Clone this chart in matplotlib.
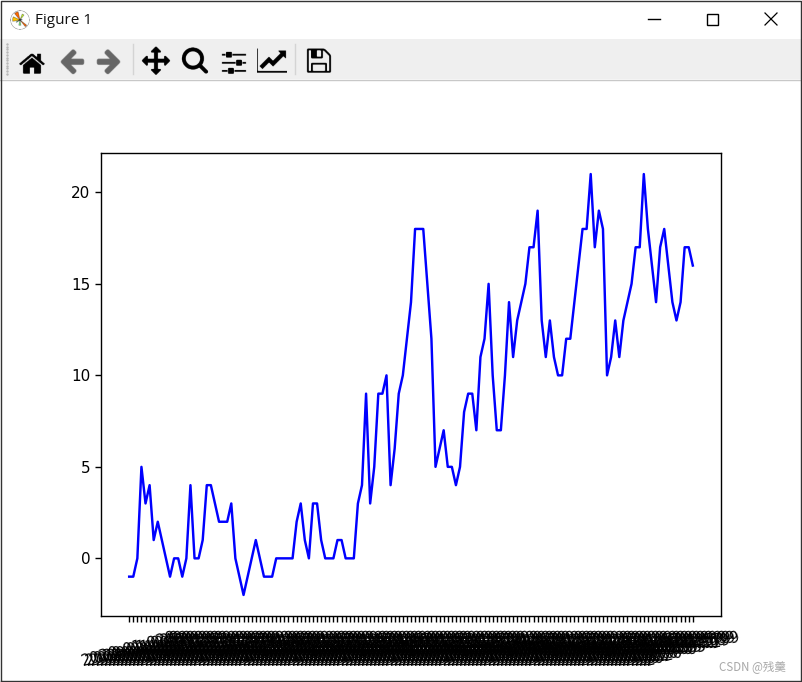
import os
import matplotlib
matplotlib.use("Agg")
import matplotlib.pyplot as plt
from matplotlib.patches import Rectangle

W, H = 802, 682

values = [-1, -1, 0, 5, 3, 4, 1, 2, 1, 0, -1, 0, 0, -1, 0, 4, 0, 0, 1, 4,
          4, 3, 2, 2, 2, 3, 0, -1, -2, -1, 0, 1, 0, -1, -1, -1, 0, 0, 0, 0,
          0, 2, 3, 1, 0, 3, 3, 1, 0, 0, 0, 1, 1, 0, 0, 0, 3, 4, 9, 3,
          5, 9, 9, 10, 4, 6, 9, 10, 12, 14, 18, 18, 18, 15, 12, 5, 6, 7, 5, 5,
          4, 5, 8, 9, 9, 7, 11, 12, 15, 10, 7, 7, 10, 14, 11, 13, 14, 15, 17, 17,
          19, 13, 11, 13, 11, 10, 10, 12, 12, 14, 16, 18, 18, 21, 17, 19, 18, 10, 11, 13,
          11, 13, 14, 15, 17, 17, 21, 18, 16, 14, 17, 18, 16, 14, 13, 14, 17, 17, 16]

# the labels are an unreadable black block in the picture, only their size matters
dates = ["2020-01-02", "2020-01-03", "2020-01-04", "2020-01-05", "2020-01-06", "2020-01-07", "2020-01-08",
         "2020-01-09", "2020-01-10", "2020-01-11", "2020-01-12", "2020-01-13", "2020-01-14", "2020-01-15",
         "2020-01-16", "2020-01-17", "2020-01-18", "2020-01-19", "2020-01-20", "2020-01-21", "2020-01-22",
         "2020-01-23", "2020-01-24", "2020-01-25", "2020-01-26", "2020-01-27", "2020-01-28", "2020-01-29",
         "2020-01-30", "2020-01-31", "2020-02-01", "2020-02-02", "2020-02-03", "2020-02-04", "2020-02-05",
         "2020-02-06", "2020-02-07", "2020-02-08", "2020-02-09", "2020-02-10", "2020-02-11", "2020-02-12",
         "2020-02-13", "2020-02-14", "2020-02-15", "2020-02-16", "2020-02-17", "2020-02-18", "2020-02-19",
         "2020-02-20", "2020-02-21", "2020-02-22", "2020-02-23", "2020-02-24", "2020-02-25", "2020-02-26",
         "2020-02-27", "2020-02-28", "2020-02-29", "2020-03-01", "2020-03-02", "2020-03-03", "2020-03-04",
         "2020-03-05", "2020-03-06", "2020-03-07", "2020-03-08", "2020-03-09", "2020-03-10", "2020-03-11",
         "2020-03-12", "2020-03-13", "2020-03-14", "2020-03-15", "2020-03-16", "2020-03-17", "2020-03-18",
         "2020-03-19", "2020-03-20", "2020-03-21", "2020-03-22", "2020-03-23", "2020-03-24", "2020-03-25",
         "2020-03-26", "2020-03-27", "2020-03-28", "2020-03-29", "2020-03-30", "2020-03-31", "2020-04-01",
         "2020-04-02", "2020-04-03", "2020-04-04", "2020-04-05", "2020-04-06", "2020-04-07", "2020-04-08",
         "2020-04-09", "2020-04-10", "2020-04-11", "2020-04-12", "2020-04-13", "2020-04-14", "2020-04-15",
         "2020-04-16", "2020-04-17", "2020-04-18", "2020-04-19", "2020-04-20", "2020-04-21", "2020-04-22",
         "2020-04-23", "2020-04-24", "2020-04-25", "2020-04-26", "2020-04-27", "2020-04-28", "2020-04-29",
         "2020-04-30", "2020-05-01", "2020-05-02", "2020-05-03", "2020-05-04", "2020-05-05", "2020-05-06",
         "2020-05-07", "2020-05-08", "2020-05-09", "2020-05-10", "2020-05-11", "2020-05-12", "2020-05-13",
         "2020-05-14", "2020-05-15", "2020-05-16", "2020-05-17", "2020-05-18", "2020-05-19"]
tick_labels = [d + "9" for d in dates]

fig = plt.figure(figsize=(W / 100, H / 100), dpi=100, facecolor="white")

# window around the figure, in screenshot pixels
chrome = fig.add_axes([0, 0, 1, 1], zorder=0)
chrome.set_xlim(0, W)
chrome.set_ylim(H, 0)
chrome.axis("off")
chrome.add_patch(Rectangle((0, 39), W, 40, color="#efefef", lw=0))
chrome.plot([0, W], [79.5, 79.5], color="#c8c8c8", lw=1)
chrome.plot([133, 133], [44, 74], color="#d4d4d4", lw=1)
chrome.plot([294.5, 294.5], [44, 74], color="#d4d4d4", lw=1)
chrome.plot([7] * 12, [44 + 2.7 * i for i in range(12)], ls="none", marker="s", ms=0.7, color="#b8b8b8")
chrome.text(35, 20, "Figure 1", fontsize=11, family="Open Sans", va="center", color="#111111")
# minimise, maximise, close
chrome.plot([648, 660], [18.5, 18.5], color="black", lw=1)
chrome.add_patch(Rectangle((706.5, 13.5), 11, 11, fill=False, ec="black", lw=1))
chrome.plot([765, 777], [13, 25], color="black", lw=0.9)
chrome.plot([765, 777], [25, 13], color="black", lw=0.9)
# window border
chrome.plot([0.5, 0.5, 800.5, 800.5, 0.5], [681, 0.5, 0.5, 681, 681], color="#333333", lw=1)


def icon(name, x, y, size, gray=False):
    path = os.path.join(matplotlib.get_data_path(), "images", name + ".png")
    img = plt.imread(path).copy()
    if gray:
        img[..., :3] = 0.4
    a = fig.add_axes([(x - size / 2) / W, 1 - (y + size / 2) / H, size / W, size / H], zorder=2)
    a.imshow(img, interpolation="antialiased")
    a.axis("off")


icon("matplotlib_large", 20, 20, 20)
icon("home_large", 32, 61, 30)
icon("back_large", 72, 61, 30, gray=True)
icon("forward_large", 109, 61, 30, gray=True)
icon("move_large", 156, 60, 30)
icon("zoom_to_rect_large", 195, 60, 30)
icon("subplots_large", 234, 61, 30)
icon("qt4_editor_options_large", 272, 60, 30)
icon("filesave_large", 319, 60, 30)

ax = fig.add_axes([101 / W, 1 - 616 / H, 620 / W, 463 / H], zorder=1)
ax.plot(tick_labels, values, color="blue", lw=1.75)
plt.xticks(rotation=15)
ax.tick_params(labelsize=11, width=1, length=4)
ax.tick_params(axis="x", pad=5.5)
for s in ax.spines.values():
    s.set_linewidth(1)

fig.text(719 / W, 1 - 667 / H, "CSDN @残羹", fontsize=8.3, color="#a8a8a8", va="center",
         family=["Noto Sans CJK SC", "DejaVu Sans"])

plt.savefig("out.png", dpi=100)
